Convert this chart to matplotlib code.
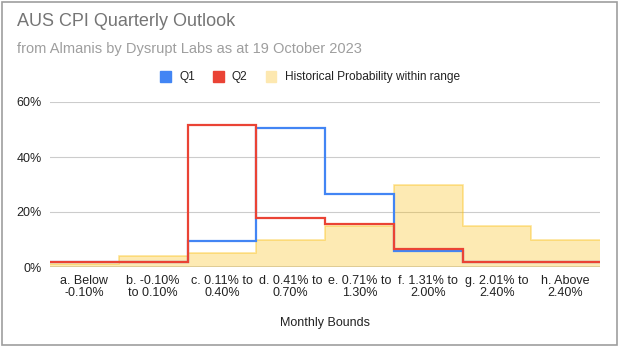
import numpy as np
import matplotlib
matplotlib.use("Agg")
import matplotlib.pyplot as plt
from matplotlib.patches import Patch, Rectangle
from matplotlib.ticker import PercentFormatter

categories = ["a. Below\n-0.10%", "b. -0.10%\nto 0.10%", "c. 0.11% to\n0.40%",
	"d. 0.41% to\n0.70%", "e. 0.71% to\n1.30%", "f. 1.31% to\n2.00%",
	"g. 2.01% to\n2.40%", "h. Above\n2.40%"]
q1 = [2, 2, 9.5, 50.5, 26.5, 5.8, 2, 2]
q2 = [2, 2, 51.5, 17.7, 15.5, 6.4, 2, 2]
historical = [1, 4, 5, 10, 15, 30, 15, 10]

BLUE = "#4285f4"
RED = "#ea4335"
YELLOW = "#fbbc04"

plt.rcParams["font.family"] = ["Liberation Sans", "DejaVu Sans"]

def draw_chart():
	fig = plt.figure(figsize=(6.2, 3.48), dpi=100)
	ax = fig.add_axes([50/620, 1-267/348, 550/620, 165/348])

	edges = np.arange(len(categories) + 1)

	ax.set_axisbelow(True)
	ax.grid(axis="y", color="#cccccc", linewidth=0.8)
	ax.axhline(0, color="#333333", linewidth=1, zorder=1)

	ax.stairs(historical, edges, baseline=0, fill=True, color=YELLOW, alpha=0.3,
		linewidth=0, zorder=2)
	ax.stairs(historical, edges, baseline=None, color=YELLOW, alpha=0.4,
		linewidth=1.2, zorder=3)
	ax.stairs(q1, edges, baseline=None, color=BLUE, linewidth=1.6, zorder=4)
	ax.stairs(q2, edges, baseline=None, color=RED, linewidth=1.6, zorder=5)

	ax.set_xlim(0, len(categories))
	ax.set_ylim(0, 60)
	ax.set_yticks([0, 20, 40, 60])
	ax.yaxis.set_major_formatter(PercentFormatter(decimals=0))
	ax.set_xticks(edges[:-1] + 0.5)
	ax.set_xticklabels(categories, linespacing=0.95)
	ax.tick_params(length=0, labelsize=9, labelcolor="#222222")
	ax.tick_params(axis="x", pad=6)
	ax.tick_params(axis="y", pad=6)
	for s in ax.spines.values():
		s.set_visible(False)

	ax.set_xlabel("Monthly Bounds", fontsize=9, color="#222222", labelpad=13)

	fig.text(17/620, 1-26/348, "AUS CPI Quarterly Outlook", fontsize=13,
		color="#757575", va="baseline")
	fig.text(17/620, 1-53/348, "from Almanis by Dysrupt Labs as at 19 October 2023",
		fontsize=10.5, color="#9e9e9e", va="baseline")

	handles = [Patch(color=BLUE), Patch(color=RED), Patch(color="#fde8b0")]
	fig.legend(handles, ["Q1", "Q2", "Historical Probability within range"],
		loc="center", bbox_to_anchor=(0.5, 1-77/348), ncol=3, frameon=False,
		fontsize=8.6, handlelength=0.9, handleheight=1.1, handletextpad=0.7,
		columnspacing=1.5, labelcolor="#222222")

	fig.patches.append(Rectangle((2/620, 3/348), 615/620, 343/348,
		transform=fig.transFigure, fill=False, edgecolor="#9e9e9e", linewidth=1.2))

	fig.savefig("out.png", dpi=100)

def main():
	draw_chart()

main()
